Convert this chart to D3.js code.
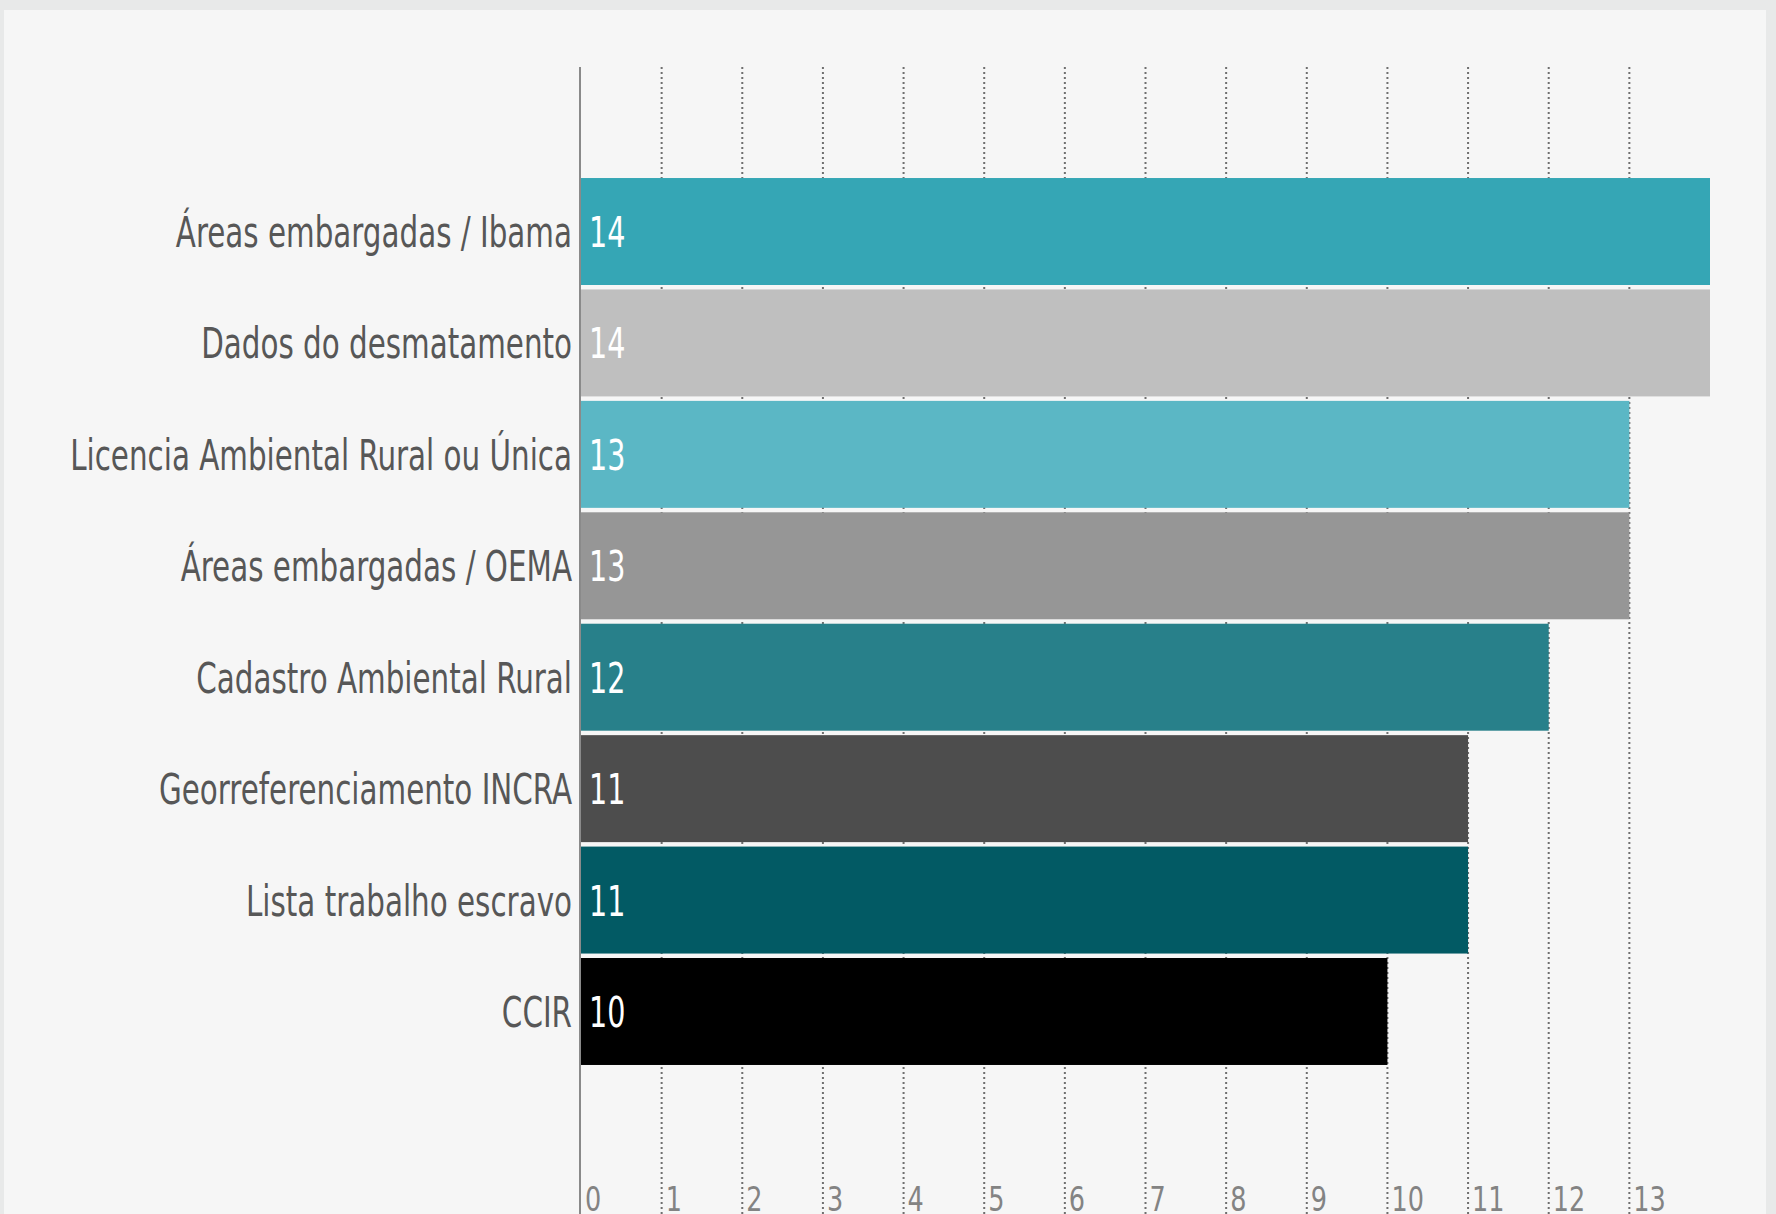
<!DOCTYPE html>
<html>
<head>
<meta charset="utf-8">
<script src="https://cdn.jsdelivr.net/npm/d3@7"></script>
<style>
  body { margin: 0; background: #e8e9e9; }
  svg { display: block; }
  text { font-family: "Liberation Sans Narrow", "DejaVu Sans Condensed", "Noto Sans", sans-serif; }
</style>
</head>
<body>
<div id="chart"></div>
<script>
let categories = [
    'Áreas embargadas / Ibama',
    'Dados do desmatamento',
    'Licencia Ambiental Rural ou Única',
    'Áreas embargadas / OEMA',
    'Cadastro Ambiental Rural',
    'Georreferenciamento INCRA',
    'Lista trabalho escravo',
    'CCIR'
];
let values = [14, 14, 13, 13, 12, 11, 11, 10];
let barColors = ['#35a6b5', '#bfbfbf', '#5bb7c5', '#969696', '#28808a', '#4d4d4d', '#025a64', '#000000'];
let tickValues = [0, 1, 2, 3, 4, 5, 6, 7, 8, 9, 10, 11, 12, 13];

let dim = {
    'width': 1776,
    'height': 1214
};

let svg = d3.select('#chart').append('svg')
    .attr('width', dim.width)
    .attr('height', dim.height);

// panel
svg.append('rect')
    .attr('x', 4).attr('y', 10)
    .attr('width', 1762).attr('height', dim.height - 10)
    .attr('fill', '#f6f6f6');

let data = categories.map((c, i) => ({ name: c, value: values[i], color: barColors[i] }));

let scaleX = d3.scaleLinear()
    .domain([0, 14])
    .range([581, 1710]);

let scaleY = d3.scaleBand()
    .domain(categories)
    .range([175.8, 1067.2])
    .paddingInner(0.04)
    .paddingOuter(0.02);

let gridTop = 67;

// the original uses a narrow face, squeeze the fallback font to match
let squeeze = 0.74;
let tickSqueeze = 0.86;

// dotted gridlines
svg.append('g')
    .selectAll('line')
    .data(tickValues.filter(d => d > 0))
    .join('line')
    .attr('x1', d => scaleX(d)).attr('x2', d => scaleX(d))
    .attr('y1', gridTop).attr('y2', dim.height)
    .attr('stroke', '#6f6f6f')
    .attr('stroke-width', 2)
    .attr('stroke-dasharray', '2,3');

// axis line
svg.append('line')
    .attr('x1', scaleX(0) - 1).attr('x2', scaleX(0) - 1)
    .attr('y1', gridTop).attr('y2', dim.height)
    .attr('stroke', '#8a8a8a')
    .attr('stroke-width', 2);

// tick labels
svg.append('g')
    .selectAll('text')
    .data(tickValues)
    .join('text')
    .attr('transform', d => `translate(${scaleX(d) + 4}, 1211) scale(${tickSqueeze}, 1)`)
    .attr('fill', '#838383')
    .attr('font-size', 33)
    .text(d => d);

// bars
svg.append('g')
    .selectAll('rect')
    .data(data)
    .join('rect')
    .attr('x', scaleX(0))
    .attr('y', d => scaleY(d.name))
    .attr('width', d => scaleX(d.value) - scaleX(0))
    .attr('height', scaleY.bandwidth())
    .attr('fill', d => d.color);

// value labels
svg.append('g')
    .selectAll('text')
    .data(data)
    .join('text')
    .attr('transform', d => `translate(${scaleX(0) + 8}, ${scaleY(d.name) + scaleY.bandwidth() / 2}) scale(${squeeze}, 1)`)
    .attr('dy', '0.36em')
    .attr('fill', '#ffffff')
    .attr('font-size', 43)
    .text(d => d.value);

// category labels
let labels = svg.append('g')
    .selectAll('text')
    .data(data)
    .join('text')
    .attr('dy', '0.36em')
    .attr('text-anchor', 'end')
    .attr('fill', '#575757')
    .attr('font-size', 43)
    .text(d => d.name);

// fit the longest label to the width it has in the original
let longest = d3.max(labels.nodes(), n => n.getComputedTextLength());
let labelSqueeze = 502 / longest;
labels.attr('transform', d => `translate(572, ${scaleY(d.name) + scaleY.bandwidth() / 2}) scale(${labelSqueeze}, 1)`);
</script>
</body>
</html>
